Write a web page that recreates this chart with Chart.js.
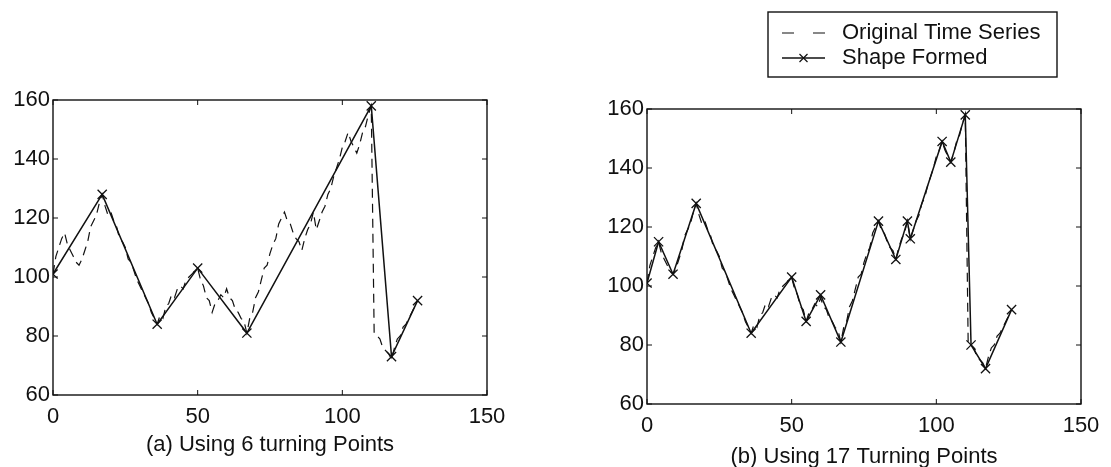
<!DOCTYPE html>
<html>
<head>
<meta charset="utf-8">
<script src="https://cdn.jsdelivr.net/npm/chart.js@4.4.0/dist/chart.umd.min.js"></script>
<style>
  html, body { margin: 0; padding: 0; background: #fff; }
  body { width: 1111px; height: 467px; position: relative; overflow: hidden; }
  canvas { position: absolute; top: 0; }
  #chartA { left: 0; }
  #chartB { left: 560px; }
</style>
</head>
<body>
<canvas id="chartA" width="530" height="467"></canvas>
<canvas id="chartB" width="551" height="467"></canvas>
<script>
// original series, one value per time step (t = 0 .. 126)
const originalValues = [
  101, 107, 110, 113, 115, 111, 109, 107, 105, 104, 106,
  109, 112, 117, 119, 121, 125, 128,
  124, 121, 122, 119, 117, 113, 112, 110, 106, 105, 102, 99, 97, 95, 93, 91, 88, 86, 84,
  87, 86, 90, 91, 94, 93, 96, 97, 96, 99, 100, 101, 102, 103,
  99, 97, 93, 92, 88,
  91, 92, 94, 93, 96,
  93, 92, 89, 88, 86, 85, 81,
  86, 88, 93, 95, 99, 103, 104, 108, 111, 113, 118, 120, 122,
  119, 118, 115, 113, 112, 109,
  113, 116, 118, 122,
  116,
  119, 122, 124, 128, 130, 134, 137, 140, 144, 146, 149,
  146, 144, 142,
  145, 149, 151, 155, 158,
  81, 80, 79, 76, 75, 74, 72,
  76, 79, 80, 83, 84, 86, 88, 90, 92
];

// (a) 6 turning points + end points
const shapeAX = [0, 17, 36, 50, 67, 110, 117, 126];
const shapeAY = [101, 128, 84, 103, 81, 158, 73, 92];

// (b) 17 turning points + end points
const shapeBX = [0, 4, 9, 17, 36, 50, 55, 60, 67, 80, 86, 90, 91, 102, 105, 110, 112, 117, 126];
const shapeBY = [101, 115, 104, 128, 84, 103, 88, 97, 81, 122, 109, 122, 116, 149, 142, 158, 80, 72, 92];

const xTicks = [0, 50, 100, 150];
const yTicks = [60, 80, 100, 120, 140, 160];
const seriesNames = ['Original Time Series', 'Shape Formed'];
const captionA = '(a) Using 6 turning Points';
const captionB = '(b) Using 17 Turning Points';

const FONT = '"Liberation Sans", Arial, Helvetica, sans-serif';
const INK = '#111';

// box around plot area, inward ticks on all sides, caption under the axis
const framePlugin = {
  id: 'frame',
  afterDraw(chart, args, opts) {
    const { ctx, chartArea: a } = chart;
    const xs = chart.scales.x, ys = chart.scales.y;
    ctx.save();
    ctx.strokeStyle = INK;
    ctx.lineWidth = 1.4;
    ctx.strokeRect(a.left, a.top, a.right - a.left, a.bottom - a.top);
    ctx.lineWidth = 1;
    ctx.beginPath();
    xs.ticks.forEach(t => {
      const px = xs.getPixelForValue(t.value);
      ctx.moveTo(px, a.bottom); ctx.lineTo(px, a.bottom - 5);
      ctx.moveTo(px, a.top); ctx.lineTo(px, a.top + 5);
    });
    ys.ticks.forEach(t => {
      const py = ys.getPixelForValue(t.value);
      ctx.moveTo(a.left, py); ctx.lineTo(a.left + 5, py);
      ctx.moveTo(a.right, py); ctx.lineTo(a.right - 5, py);
    });
    ctx.stroke();
    if (opts.text) {
      ctx.fillStyle = INK;
      ctx.font = '22px ' + FONT;
      ctx.textAlign = 'center';
      ctx.textBaseline = 'alphabetic';
      ctx.fillText(opts.text, (a.left + a.right) / 2, opts.baseline);
    }
    ctx.restore();
  }
};

// boxed legend in the upper right (only used on chart b)
const boxLegendPlugin = {
  id: 'boxLegend',
  afterDraw(chart, args, opts) {
    if (!opts.show) return;
    const { ctx } = chart;
    const b = opts.box;
    ctx.save();
    ctx.strokeStyle = INK;
    ctx.lineWidth = 1.4;
    ctx.strokeRect(b.left, b.top, b.right - b.left, b.bottom - b.top);
    ctx.font = '22px ' + FONT;
    ctx.fillStyle = INK;
    ctx.textAlign = 'left';
    ctx.textBaseline = 'middle';
    chart.data.datasets.forEach((ds, i) => {
      const y = opts.rows[i];
      ctx.lineWidth = ds.borderWidth;
      ctx.setLineDash(ds.borderDash ? opts.sampleDash : []);
      ctx.beginPath();
      ctx.moveTo(opts.lineFrom, y);
      ctx.lineTo(opts.lineTo, y);
      ctx.stroke();
      ctx.setLineDash([]);
      if (ds.pointRadius > 0) {
        const cx = (opts.lineFrom + opts.lineTo) / 2, r = 4;
        ctx.lineWidth = 1.2;
        ctx.beginPath();
        ctx.moveTo(cx - r, y - r); ctx.lineTo(cx + r, y + r);
        ctx.moveTo(cx - r, y + r); ctx.lineTo(cx + r, y - r);
        ctx.stroke();
      }
      ctx.fillText(ds.label, opts.textX, y);
    });
    ctx.restore();
  }
};

function buildChart(id, shapeX, shapeY, area, canvasW, canvasH, caption, captionBaseline, legend) {
  const original = originalValues.map((v, i) => ({ x: i, y: v }));
  const shape = shapeX.map((v, i) => ({ x: v, y: shapeY[i] }));
  return new Chart(document.getElementById(id), {
    type: 'line',
    data: {
      datasets: [
        {
          label: seriesNames[0],
          data: original,
          borderColor: INK,
          borderWidth: 1.2,
          borderDash: [9, 6],
          pointRadius: 0,
          tension: 0
        },
        {
          label: seriesNames[1],
          data: shape,
          borderColor: INK,
          borderWidth: 1.5,
          pointStyle: 'crossRot',
          pointRadius: 6.5,
          pointBorderWidth: 1.3,
          pointBorderColor: INK,
          tension: 0
        }
      ]
    },
    options: {
      responsive: false,
      animation: false,
      events: [],
      layout: {
        padding: { left: 0, top: area.top, right: canvasW - area.right, bottom: 0 }
      },
      scales: {
        x: {
          type: 'linear',
          min: 0,
          max: 150,
          afterBuildTicks: s => { s.ticks = xTicks.map(v => ({ value: v })); },
          afterFit: s => { s.height = canvasH - area.bottom; },
          grid: { drawOnChartArea: false, drawTicks: false },
          border: { display: false },
          ticks: { color: INK, padding: 9, maxRotation: 0, font: { family: FONT, size: 22 } }
        },
        y: {
          min: 60,
          max: 160,
          afterBuildTicks: s => { s.ticks = yTicks.map(v => ({ value: v })); },
          afterFit: s => { s.width = area.left; },
          grid: { drawOnChartArea: false, drawTicks: false },
          border: { display: false },
          ticks: { color: INK, padding: 3, font: { family: FONT, size: 22 } }
        }
      },
      plugins: {
        legend: { display: false },
        tooltip: { enabled: false },
        frame: { text: caption, baseline: captionBaseline },
        boxLegend: legend || { show: false }
      }
    },
    plugins: [framePlugin, boxLegendPlugin]
  });
}

buildChart('chartA', shapeAX, shapeAY,
  { left: 53, top: 100, right: 487, bottom: 395 }, 530, 467, captionA, 451);

buildChart('chartB', shapeBX, shapeBY,
  { left: 87, top: 109, right: 521, bottom: 404 }, 551, 467, captionB, 463,
  {
    show: true,
    box: { left: 208, top: 12, right: 497, bottom: 77 },
    rows: [33, 58],
    lineFrom: 222,
    lineTo: 265,
    sampleDash: [12, 19],
    textX: 282
  });
</script>
</body>
</html>
